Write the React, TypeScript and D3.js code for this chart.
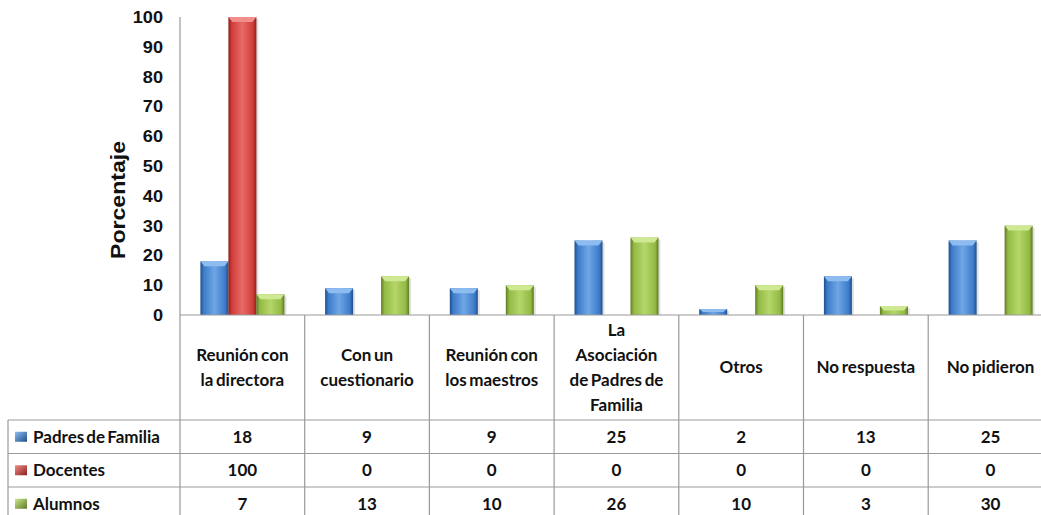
import React from "react";
import * as d3 from "d3";

const categories: string[][] = [
  ["Reunión con", "la directora"],
  ["Con un", "cuestionario"],
  ["Reunión con", "los maestros"],
  ["La", "Asociación", "de Padres de", "Familia"],
  ["Otros"],
  ["No respuesta"],
  ["No pidieron"],
];
const seriesNames = ["Padres de Familia", "Docentes", "Alumnos"];
const padres = [18, 9, 9, 25, 2, 13, 25];
const docentes = [100, 0, 0, 0, 0, 0, 0];
const alumnos = [7, 13, 10, 26, 10, 3, 30];
const yTicks = [0, 10, 20, 30, 40, 50, 60, 70, 80, 90, 100];

const colors = [
  { dark: "#1f4f8c", mid: "#3d7cc9", light: "#6fa6e6", cap: "#8cbcf0" },
  { dark: "#8c1f1d", mid: "#d03c39", light: "#e86a66", cap: "#f08e8a" },
  { dark: "#5e7a22", mid: "#93ba44", light: "#b5d66a", cap: "#cfe892" },
];

export default function App() {
  const W = 1041, H = 515;
  const left = 180;
  const step = 124.7;
  const x = d3.scaleBand<number>().domain(d3.range(categories.length)).range([left, left + step * categories.length]).padding(0);
  const y = d3.scaleLinear().domain([0, 100]).range([315, 17]);
  const inner = d3.scaleBand<number>().domain([0, 1, 2]).range([20.4, 20.4 + 84]).padding(0);
  const data = [padres, docentes, alumnos];
  const headerTop = 315, headerBottom = 420;
  const rowH = 33.5;
  const fontTable = "Lato, 'Open Sans', sans-serif";
  const tfs = 17;

  return (
    <svg width={W} height={H} style={{ position: "absolute", left: 0, top: 0, background: "#fff" }} fontFamily="'Liberation Sans', Arial, sans-serif">
      <defs>
        {colors.map((c, i) => (
          <linearGradient key={i} id={`g${i}`} x1="0" x2="1" y1="0" y2="0">
            <stop offset="0" stopColor={c.dark} />
            <stop offset="0.12" stopColor={c.mid} />
            <stop offset="0.5" stopColor={c.light} />
            <stop offset="0.88" stopColor={c.mid} />
            <stop offset="1" stopColor={c.dark} />
          </linearGradient>
        ))}
        {colors.map((c, i) => (
          <linearGradient key={i} id={`k${i}`} x1="0" x2="1" y1="0" y2="1">
            <stop offset="0" stopColor={c.cap} />
            <stop offset="1" stopColor={c.dark} />
          </linearGradient>
        ))}
      </defs>

      {/* bars */}
      {data.map((vals, s) =>
        vals.map((v, i) => {
          if (v <= 0) return null;
          const bx = (x(i) as number) + (inner(s) as number);
          const bw = inner.bandwidth();
          const top = y(v);
          const h = y(0) - top;
          const cap = Math.min(5, h / 2);
          return (
            <g key={`${s}-${i}`}>
              <rect x={bx + 2} y={top + 2} width={bw} height={h - 2} fill="#000" opacity={0.12} />
              <rect x={bx} y={top} width={bw} height={h} fill={`url(#g${s})`} />
              <polygon
                points={`${bx},${top} ${bx + bw},${top} ${bx + bw - 4},${top + cap} ${bx + 4},${top + cap}`}
                fill={colors[s].cap}
              />
            </g>
          );
        })
      )}

      {/* axes */}
      <line x1={left} x2={W} y1={y(0)} y2={y(0)} stroke="#999" strokeWidth={1.2} />
      <line x1={left} x2={left} y1={y(100)} y2={H} stroke="#999" strokeWidth={1.2} />
      {yTicks.map((t) => (
        <g key={t} transform={`translate(163,${y(t)}) scale(1.1,1)`}>
          <text x={0} y={0} dy="0.36em" textAnchor="end" fontSize={16.5} fontWeight="bold" fill="#111">
            {t}
          </text>
        </g>
      ))}
      <text
        transform={`translate(125,200) rotate(-90)`}
        textAnchor="middle"
        fontSize={20}
        fontWeight="bold"
        textLength={118}
        lengthAdjust="spacingAndGlyphs"
        fill="#111"
      >
        Porcentaje
      </text>

      {/* table grid */}
      {d3.range(1, categories.length + 1).map((i) => (
        <line key={i} x1={left + i * step} x2={left + i * step} y1={headerTop} y2={H} stroke="#999" strokeWidth={1.2} />
      ))}
      {[0, 1, 2].map((r) => (
        <line key={r} x1={8} x2={W} y1={headerBottom + r * rowH} y2={headerBottom + r * rowH} stroke="#999" strokeWidth={1.2} />
      ))}
      <line x1={8} x2={8} y1={headerBottom} y2={H} stroke="#999" strokeWidth={1.2} />

      {/* header labels */}
      {categories.map((lines, i) => {
        const cx = (x(i) as number) + step / 2;
        const lh = 25;
        const cy = (headerTop + headerBottom) / 2;
        const start = cy - ((lines.length - 1) * lh) / 2;
        return (
          <text key={i} x={cx} textAnchor="middle" fontFamily={fontTable} fontSize={tfs} fontWeight="bold" fill="#111" wordSpacing={-1.5}>
            {lines.map((l, j) => (
              <tspan key={j} x={cx} y={start + j * lh} dy="0.35em">
                {l}
              </tspan>
            ))}
          </text>
        );
      })}

      {/* rows */}
      {data.map((vals, s) => {
        const ry = headerBottom + s * rowH + rowH / 2;
        return (
          <g key={s}>
            <rect x={15} y={ry - 5} width={12} height={10} fill={`url(#k${s})`} />
            <text x={33} y={ry} dy="0.35em" fontFamily={fontTable} fontSize={tfs} fontWeight="bold" fill="#111" wordSpacing={-2}>
              {seriesNames[s]}
            </text>
            {vals.map((v, i) => (
              <text
                key={i}
                x={(x(i) as number) + step / 2}
                y={ry}
                dy="0.35em"
                textAnchor="middle"
                fontFamily={fontTable}
                fontSize={tfs}
                fontWeight="bold"
                fill="#111"
              >
                {v}
              </text>
            ))}
          </g>
        );
      })}
    </svg>
  );
}
